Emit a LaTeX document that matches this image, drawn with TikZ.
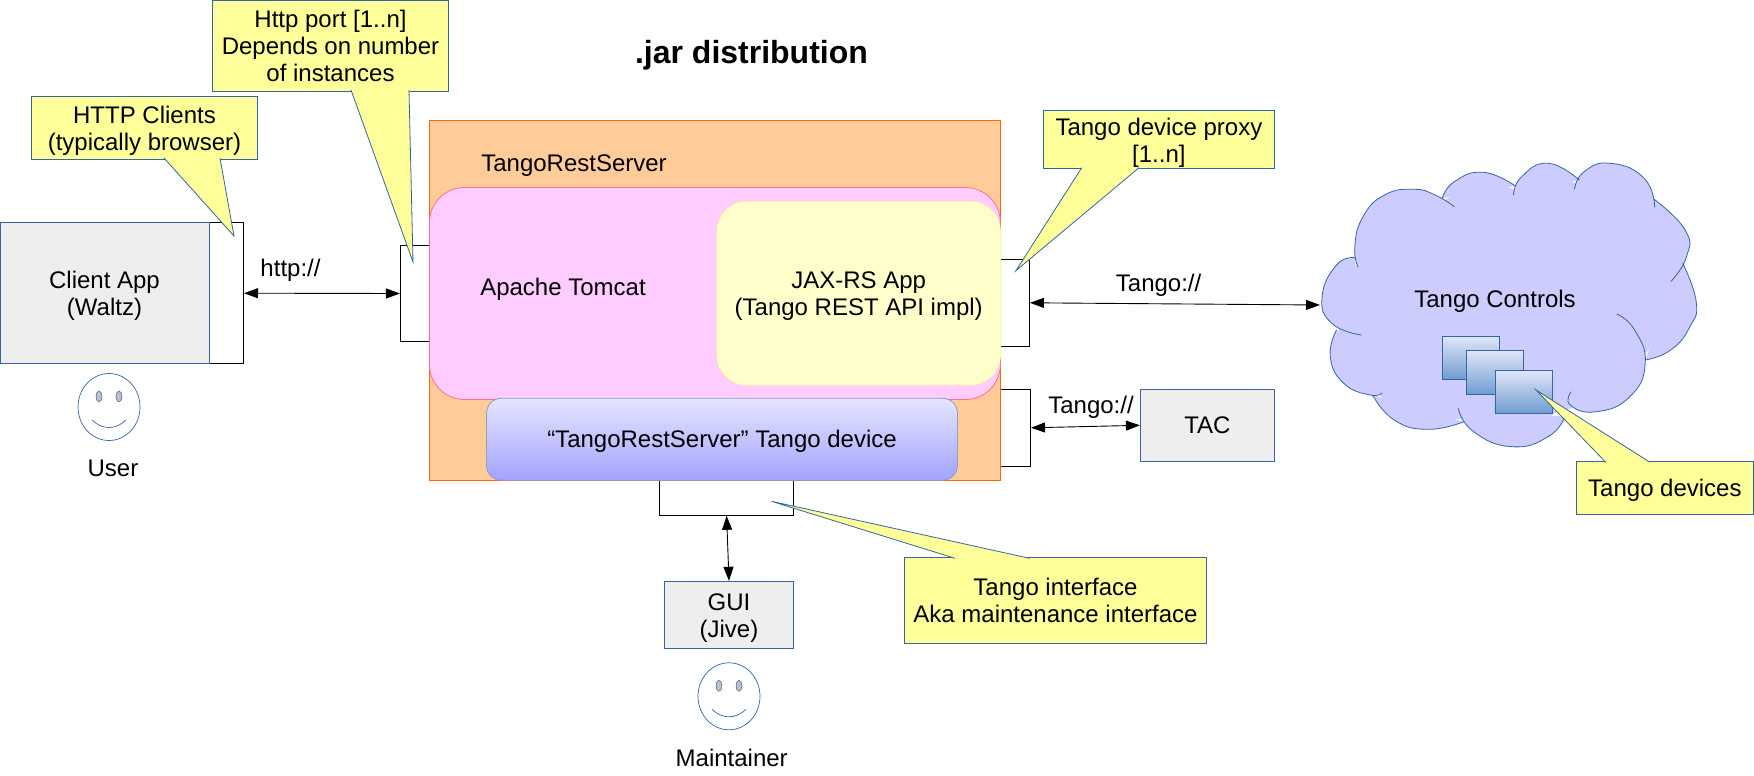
\documentclass[tikz,border=0pt]{standalone}
\usepackage{fontspec}
\setmainfont{Liberation Sans}
\usepackage{xcolor}
\usepackage{tikz}
\usetikzlibrary{arrows.meta, positioning}
\definecolor{edgeblue}{HTML}{3465A4}
\definecolor{callfill}{HTML}{FFFF99}
\definecolor{grayfill}{HTML}{EEEEEE}
\definecolor{orangefill}{HTML}{FFCC99}
\definecolor{pinkfill}{HTML}{FFCCFF}
\definecolor{cloudfill}{HTML}{CCCCFF}
\definecolor{devtop}{HTML}{E0E6F8}
\definecolor{devbot}{HTML}{6F9BD1}
\tikzset{
  txt/.style  ={inner sep=0pt, align=center, font=\fontsize{24}{27}\selectfont,
                execute at begin node={\rule[-6pt]{0pt}{29pt}}, execute at end node={\rule[-6pt]{0pt}{6pt}}},
  ml/.style   ={execute at begin node={\rule[-6pt]{0pt}{#1}}},
  ml/.default =57pt,
  call/.style ={txt, rectangle, draw=edgeblue, fill=callfill, line width=1pt},
  tl/.style   ={draw=edgeblue, fill=callfill, line width=0.8pt},
  gbx/.style  ={txt, rectangle, draw=edgeblue, fill=grayfill, line width=1pt},
  prt/.style  ={rectangle, draw=black, fill=white, line width=1pt, inner sep=0pt},
  dev/.style  ={rectangle, draw=edgeblue, line width=0.8pt, top color=devtop, bottom color=devbot, minimum width=57.5pt, minimum height=43pt},
  cl/.style   ={draw=edgeblue, fill=cloudfill, line width=0.8pt},
  fl2/.style  ={{Triangle[length=14pt,width=10pt]}-{Triangle[length=14pt,width=10pt]}, line width=0.9pt},
  smiley/.pic={
    \draw[edgeblue, line width=0.7pt] (0,0) ellipse (31pt and 33.5pt);
    \draw[edgeblue, fill=black!25, line width=0.5pt] (-10,-10.5) ellipse (3pt and 5.5pt);
    \draw[edgeblue, fill=black!25, line width=0.5pt] (10,-10.5) ellipse (3pt and 5.5pt);
    \draw[edgeblue, line width=0.7pt] (-17,13) .. controls (-7,23) and (7,23) .. (17,13);
  },
}
\begin{document}
\begin{tikzpicture}[x=1pt, y=-1pt]
  \useasboundingbox (0,0) rectangle (1754,776);
  \node[txt, font=\fontsize{32}{37}\selectfont\bfseries] (title) at (751.5,55.4) {.jar distribution};

  \node[prt, minimum width=34pt, minimum height=141.5pt] (clientport) at (226.5,293.2) {};
  \node[gbx, ml, left=-0.5pt of clientport, minimum width=209pt, minimum height=141.5pt] (client) {Client App\\(Waltz)};
  \pic at (109,407) {smiley};
  \node[txt] (user) at (113,468) {User};

  \node[prt, minimum width=44.5pt, minimum height=96pt] (httpport) at (422.7,293.5) {};
  \node[prt, minimum width=44.5pt, minimum height=87pt] (proxyport) at (1007.2,302.8) {};
  \node[prt, minimum width=44.5pt, minimum height=77pt] (tacport) at (1008.3,427.8) {};
  \node[prt, minimum width=134pt, minimum height=50pt] (tangoport) at (726.6,490.3) {};

  \node[rectangle, draw={rgb,255:red,255;green,102;blue,0}, fill=orangefill, line width=1pt, minimum width=571pt, minimum height=360pt] (server) at (714.9,300.5) {};
  \node[txt] (serverlbl) at (574,162.7) {TangoRestServer};
  \node[rectangle, rounded corners=35pt, draw=red!45!pinkfill, fill=pinkfill, line width=0.8pt, minimum width=571pt, minimum height=212pt] (tomcat) at (714.9,293.5) {};
  \node[txt] (tomcatlbl) at (563,286.7) {Apache Tomcat};
  \node[txt, ml, rectangle, rounded corners=30pt, draw=callfill, fill=callfill!50!white, line width=0.8pt, minimum width=283.4pt, minimum height=183.3pt] (jaxrs) at (858.7,293.3) {JAX-RS App\\(Tango REST API impl)};
  \node[txt, rectangle, rounded corners=15pt, draw=edgeblue!60!white, top color=cloudfill!50!white, bottom color=cloudfill!60!blue!70!white, line width=0.8pt, minimum width=471pt, minimum height=82pt] (device) at (722,439.3) {“TangoRestServer” Tango device};

  \node[gbx, ml, minimum width=129.3pt, minimum height=67.4pt] (gui) at (729,615) {GUI\\(Jive)};
  \pic at (729,696.3) {smiley};
  \node[txt] (maint) at (731.7,757.7) {Maintainer};
  \node[gbx, minimum width=134pt, minimum height=72pt] (tac) at (1207.4,425.3) {TAC};

  \fill[cloudfill] (1340,296) -- (1339,327) -- (1338,340) -- (1345,356) -- (1372,385) -- (1400,420) -- (1460,419) -- (1512,440) -- (1560,410) -- (1596,405) -- (1640,360) -- (1690,300) -- (1675,265) -- (1680,230) -- (1650,200) -- (1610,170) -- (1578,185) -- (1548,170) -- (1516,190) -- (1483,178) -- (1445,200) -- (1413,195) -- (1360,240) -- (1358,262) -- cycle;
  \draw[cl, line join=round] plot[smooth, tension=0.85] coordinates {(1354.8,257.7) (1336.5,265) (1322.1,296.7) (1331.7,323.3) (1361.5,335)}
    plot[smooth, tension=0.85] coordinates {(1336.5,330) (1330.3,356.7) (1343.8,383.3) (1370.2,395) (1382.2,392.7)}
    plot[smooth, tension=0.85] coordinates {(1372.6,395) (1394.2,420) (1427.9,429.3) (1463.9,421.7)}
    plot[smooth, tension=0.85] coordinates {(1458.2,408.3) (1473.6,431.7) (1512,446.7) (1548.1,436.7) (1564.9,416.7)}
    plot[smooth, tension=0.85] coordinates {(1571.2,391.7) (1570.2,405) (1596.2,411.7) (1629.8,396.7) (1645.2,363.3) (1634.6,330) (1616.8,314)}
    plot[smooth, tension=0.85] coordinates {(1645.2,360) (1670.7,350) (1689.9,326.7) (1696.2,301.7) (1682.7,263.3)}
    plot[smooth, tension=0.85] coordinates {(1670.7,281.7) (1686.5,256.7) (1685.1,230) (1653.8,199)}
    plot[smooth, tension=0.85] coordinates {(1654.8,207.7) (1644.2,178.3) (1610.6,163.3) (1584.1,171.7) (1574.5,189.3)}
    plot[smooth, tension=0.85] coordinates {(1579.3,180) (1548.1,163.3) (1521.6,176.7) (1513.5,195)}
    plot[smooth, tension=0.85] coordinates {(1515.4,186) (1483.2,172.3) (1454.3,181.7) (1442.3,198.3)}
    plot[smooth, tension=0.85] coordinates {(1454.3,206.7) (1435.1,195) (1413.5,189.3) (1384.6,195) (1363,216.7) (1354.8,246.7) (1358.2,267.3)};
  \node[txt] (cloudlbl) at (1495,299) {Tango Controls};
  \coordinate (cloudw) at (1320,305);
  \node[dev] (dev1) at (1470.9,358) {};
  \node[dev, minimum height=44.4pt] (dev2) at (1495,372.5) {};
  \node[dev] (dev3) at (1523.7,392) {};

  \draw[fl2] (clientport.east) -- (httpport.west);
  \draw[fl2] (proxyport.east) -- (cloudw);
  \draw[fl2] (tacport.east) -- (tac.west);
  \draw[fl2] (tangoport.south) -- (gui.north);
  \node[txt] (httplbl) at (290.5,268) {http://};
  \node[txt] (tangolbl) at (1158.6,282.7) {Tango://};
  \node[txt] (taclbl) at (1091,405) {Tango://};

  \node[call, ml, minimum width=226pt, minimum height=62.5pt] (httpcall) at (144.5,127.8) {HTTP Clients\\(typically browser)};
  \draw[tl] (164,158) -- (234,236) -- (220,158);
  \node[call, ml=84pt, minimum width=236pt, minimum height=90.5pt] (portcall) at (330.5,45.8) {Http port [1..n]\\Depends on number\\of instances};
  \draw[tl] (351,90) -- (413,262) -- (409,90);
  \node[call, ml, minimum width=231.2pt, minimum height=58.4pt] (proxycall) at (1158.9,139.5) {Tango device proxy\\{}[1..n]};
  \draw[tl] (1081.7,167.7) -- (1015.9,270.7) -- (1139,167.7);
  \node[call, ml, minimum width=302.4pt, minimum height=86pt] (ifcall) at (1055.5,600.3) {Tango interface\\Aka maintenance interface};
  \draw[tl] (954.9,558.3) -- (771.5,501.3) -- (1029.5,558.3);
  \node[call, minimum width=177pt, minimum height=53pt] (devcall) at (1664.9,487.8) {Tango devices};
  \draw[tl] (1605.8,462.3) -- (1536,390) -- (1650,462.3);
\end{tikzpicture}
\end{document}
